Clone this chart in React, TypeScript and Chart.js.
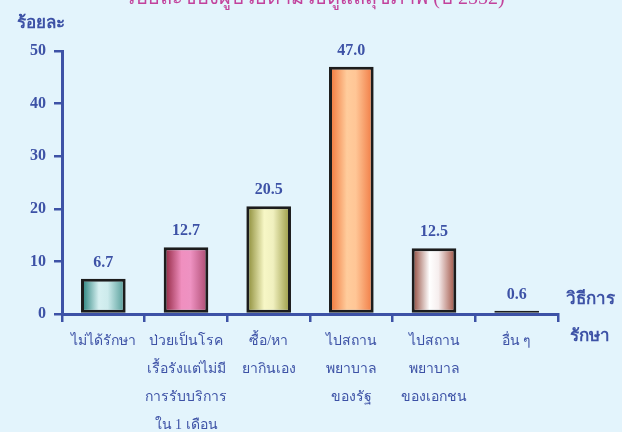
import React, { useEffect, useRef } from "react";
import { Chart, registerables } from "chart.js";

Chart.register(...registerables);

const categories: string[][] = [
  ["ไม่ได้รักษา"],
  ["ป่วยเป็นโรค", "เรื้อรังแต่ไม่มี", "การรับบริการ", "ใน 1 เดือน"],
  ["ซื้อ/หา", "ยากินเอง"],
  ["ไปสถาน", "พยาบาล", "ของรัฐ"],
  ["ไปสถาน", "พยาบาล", "ของเอกชน"],
  ["อื่น ๆ"],
];
const values: number[] = [6.7, 12.7, 20.5, 47.0, 12.5, 0.6];
const valueLabels: string[] = ["6.7", "12.7", "20.5", "47.0", "12.5", "0.6"];
const gradientStops: string[][] = [
  ["#1d7a74", "#d6f0f1", "#cdebec", "#4b9792"],
  ["#8a1f38", "#f08fbf", "#ee92c2", "#a9476c"],
  ["#85852e", "#f7f7c6", "#f0f0bf", "#95953c"],
  ["#ef7135", "#ffcc9c", "#ffc696", "#f0773f"],
  ["#8a3e2f", "#ffffff", "#f6eeee", "#9a4737"],
  ["#1f6f6a", "#c8e8e8", "#c8e8e8", "#3f8e88"],
];
const yTicks: number[] = [0, 10, 20, 30, 40, 50];
const yTitle = "ร้อยละ";
const xTitle: string[] = ["วิธีการ", "รักษา"];
const chartTitle = "ร้อยละของผู้ป่วยตามวิธีดูแลสุขภาพ (ปี 2552)";

const BLUE = "#3d52a6";
const BG = "#e3f4fc";
const SERIF = '"Liberation Serif", "Times New Roman", serif';

const overlay = {
  id: "overlay",
  beforeDraw(chart: any) {
    const { ctx, width, height } = chart;
    ctx.save();
    ctx.fillStyle = BG;
    ctx.fillRect(0, 0, width, height);
    ctx.restore();
  },
  afterDraw(chart: any) {
    const { ctx } = chart;
    ctx.save();
    // title (mostly clipped at top)
    ctx.fillStyle = "#c2429c";
    ctx.font = `20px ${SERIF}`;
    ctx.textAlign = "center";
    ctx.textBaseline = "alphabetic";
    ctx.fillText(chartTitle, 315, 4);
    // y title
    ctx.fillStyle = BLUE;
    ctx.font = `bold 17px ${SERIF}`;
    ctx.textAlign = "left";
    ctx.textBaseline = "middle";
    ctx.fillText(yTitle, 17, 24);
    // x title
    ctx.font = `bold 17px ${SERIF}`;
    ctx.textAlign = "center";
    ctx.fillText(xTitle[0], 590, 300);
    ctx.fillText(xTitle[1], 590, 337);
    // value labels
    const meta = chart.getDatasetMeta(0);
    ctx.font = `bold 16px ${SERIF}`;
    meta.data.forEach((bar: any, i: number) => {
      ctx.fillText(valueLabels[i], bar.x, bar.y - 16);
    });
    ctx.restore();
  },
};

export default function App() {
  const ref = useRef<HTMLCanvasElement | null>(null);
  useEffect(() => {
    if (!ref.current) return;
    const chart = new Chart(ref.current, {
      type: "bar",
      data: {
        labels: categories,
        datasets: [
          {
            data: values,
            backgroundColor: (c: any) => {
              const ch = c.chart;
              const xs = ch.scales && ch.scales.x;
              const stops = gradientStops[c.dataIndex] || gradientStops[0];
              if (!xs || !ch.chartArea) return stops[1];
              const cx = xs.getPixelForValue(c.dataIndex);
              const w = (xs.width / categories.length) * 0.54;
              const g = ch.ctx.createLinearGradient(cx - w / 2, 0, cx + w / 2, 0);
              g.addColorStop(0, stops[0]);
              g.addColorStop(0.4, stops[1]);
              g.addColorStop(0.6, stops[2]);
              g.addColorStop(1, stops[3]);
              return g;
            },
            borderColor: "#1c1c1c",
            borderWidth: 3,
            borderSkipped: false,
            categoryPercentage: 1,
            barPercentage: 0.54,
          },
        ],
      },
      options: {
        responsive: false,
        animation: false,
        layout: { padding: { left: 0, right: 64, top: 51, bottom: 0 } },
        plugins: {
          legend: { display: false },
          tooltip: { enabled: false },
          title: { display: false },
        },
        scales: {
          x: {
            z: 1,
            grid: {
              offset: true,
              drawOnChartArea: false,
              drawTicks: true,
              tickLength: 8,
              color: BLUE,
              lineWidth: 2.5,
            },
            border: { display: true, color: BLUE, width: 3 },
            ticks: {
              color: BLUE,
              padding: 5,
              maxRotation: 0,
              autoSkip: false,
              font: { family: SERIF, size: 14, lineHeight: "28px" as any },
            },
            afterFit: (s: any) => {
              s.height = 118;
            },
          },
          y: {
            z: 1,
            min: 0,
            max: 50,
            afterBuildTicks: (s: any) => {
              s.ticks = yTicks.map((v) => ({ value: v }));
            },
            grid: {
              drawOnChartArea: false,
              drawTicks: true,
              tickLength: 8,
              color: BLUE,
              lineWidth: 2.5,
            },
            border: { display: true, color: BLUE, width: 3 },
            ticks: {
              color: BLUE,
              padding: 8,
              font: { family: SERIF, size: 16, weight: "bold" },
            },
            afterFit: (s: any) => {
              s.width = 62;
            },
          },
        },
      },
      plugins: [overlay],
    });
    return () => chart.destroy();
  }, []);
  return (
    <div style={{ position: "absolute", left: 0, top: 0, width: 622, height: 432, background: BG }}>
      <canvas ref={ref} width={622} height={432} style={{ display: "block" }} />
    </div>
  );
}
